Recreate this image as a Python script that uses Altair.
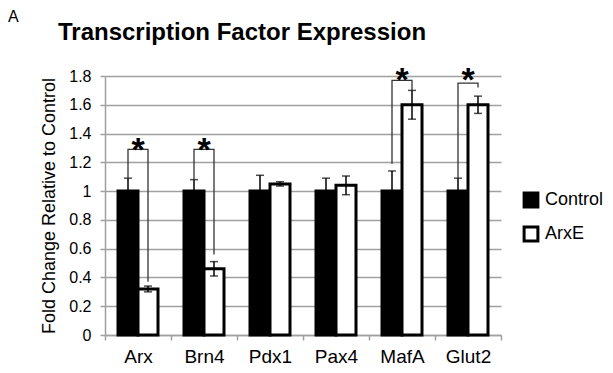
import altair as alt
import pandas as pd

genes = ["Arx", "Brn4", "Pdx1", "Pax4", "MafA", "Glut2"]
groups = ["Control", "ArxE"]
control_mean = [1.0, 1.0, 1.0, 1.0, 1.0, 1.0]
control_err = [0.09, 0.08, 0.11, 0.09, 0.14, 0.09]
arxe_mean = [0.32, 0.46, 1.05, 1.04, 1.60, 1.60]
arxe_err = [0.02, 0.05, 0.015, 0.065, 0.10, 0.06]

# significance brackets: gene, left foot, top, right foot, star centre
sig_genes = ["Arx", "Brn4", "MafA", "Glut2"]
sig_left = [1.09, 1.08, 1.19, 1.09]
sig_top = [1.29, 1.29, 1.77, 1.75]
sig_right = [0.37, 0.56, 1.70, 1.72]
sig_star = [1.345, 1.345, 1.83, 1.83]

title_text = "Transcription Factor Expression"
panel_label = "A"
y_ticks = [0, 0.2, 0.4, 0.6, 0.8, 1.0, 1.2, 1.4, 1.6, 1.8]

rows = []
for g, m, e in zip(genes, control_mean, control_err):
    rows.append({"gene": g, "group": "Control", "mean": m, "lo": m - e, "hi": m + e})
for g, m, e in zip(genes, arxe_mean, arxe_err):
    rows.append({"gene": g, "group": "ArxE", "mean": m, "lo": m - e, "hi": m + e})
df = pd.DataFrame(rows)

br = []
for g, l, t, r in zip(sig_genes, sig_left, sig_top, sig_right):
    br += [
        {"gene": g, "group": "Control", "val": l, "o": 0},
        {"gene": g, "group": "Control", "val": t, "o": 1},
        {"gene": g, "group": "ArxE", "val": t, "o": 2},
        {"gene": g, "group": "ArxE", "val": r, "o": 3},
    ]
bdf = pd.DataFrame(br)
sdf = pd.DataFrame({"gene": sig_genes, "star": sig_star, "t": ["*"] * len(sig_genes)})

GRAY = "#a0a0a0"
xaxis = alt.Axis(title=None, tickBand="extent", labelAngle=0, labelFontSize=19,
                 labelColor="black", labelPadding=7, tickSize=5, tickColor=GRAY,
                 tickWidth=1.5, domainColor=GRAY, domainWidth=1.5, grid=False)
xscale = alt.Scale(domain=genes, paddingInner=0, paddingOuter=0)
yaxis = alt.Axis(title="Fold Change Relative to Control", values=y_ticks,
                 format=".1~f", labelFontSize=16, labelColor="black", labelOverlap=False,
                 labelPadding=9, tickSize=5, tickColor=GRAY, tickWidth=1.5,
                 domainColor=GRAY, domainWidth=1.5, grid=True, gridColor=GRAY,
                 gridWidth=1.5, titleFontSize=18, titleFontWeight="normal",
                 titleColor="black", titlePadding=10)
yscale = alt.Scale(domain=[0, 1.8], nice=False)
xoscale = alt.Scale(domain=groups, paddingInner=0, paddingOuter=0.65)


def X():
    return alt.X("gene:N", scale=xscale, axis=xaxis)


def XO():
    return alt.XOffset("group:N", scale=xoscale)


def Y(field):
    return alt.Y(field, scale=yscale, axis=yaxis)


base = alt.Chart(df)
bars = base.mark_bar(stroke="black", strokeWidth=3).encode(
    x=X(),
    xOffset=XO(),
    y=Y("mean:Q"),
    fill=alt.Fill("group:N",
                  scale=alt.Scale(domain=groups, range=["black", "white"]),
                  legend=alt.Legend(title=None, orient="none", legendX=417, legendY=115,
                                    symbolType="square", symbolSize=190,
                                    symbolStrokeColor="black", symbolStrokeWidth=3,
                                    labelFontSize=18, labelColor="black", rowPadding=8,
                                    labelOffset=5, padding=0)),
)
err = base.mark_rule(color="black", strokeWidth=1.5).encode(
    x=X(), xOffset=XO(), y=Y("lo:Q"), y2="hi:Q")
cap_hi = base.mark_tick(color="black", thickness=1.5, size=8, orient="horizontal").encode(
    x=X(), xOffset=XO(), y=Y("hi:Q"))
cap_lo = base.mark_tick(color="black", thickness=1.5, size=8, orient="horizontal").encode(
    x=X(), xOffset=XO(), y=Y("lo:Q"))

brackets = alt.Chart(bdf).mark_line(color="#333333", strokeWidth=1.3).encode(
    x=X(), xOffset=XO(), y=Y("val:Q"), detail="gene:N", order="o:Q")
stars = alt.Chart(sdf).mark_text(fontSize=34, fontWeight="bold", color="black",
                                 baseline="alphabetic", dy=19.5).encode(
    x=X(), y=Y("star:Q"), text="t:N")

ttl = alt.Chart(pd.DataFrame({"t": [title_text]})).mark_text(
    fontSize=24, fontWeight="bold", color="black", align="center", baseline="alphabetic"
).encode(x=alt.value(137), y=alt.value(-36), text="t:N")
lab = alt.Chart(pd.DataFrame({"t": [panel_label]})).mark_text(
    fontSize=16, color="black", align="left", baseline="alphabetic"
).encode(x=alt.value(-97), y=alt.value(-54), text="t:N")

chart = alt.layer(bars, err, cap_hi, cap_lo, brackets, stars, ttl, lab).properties(
    width=396, height=259,
    autosize=alt.AutoSizeParams(type="none"),
    padding={"left": 97, "top": 68, "right": 104, "bottom": 30},
).configure(font="Liberation Sans").configure_view(stroke=None)

chart.save("out.html", embed_options={"renderer": "svg", "actions": False})
